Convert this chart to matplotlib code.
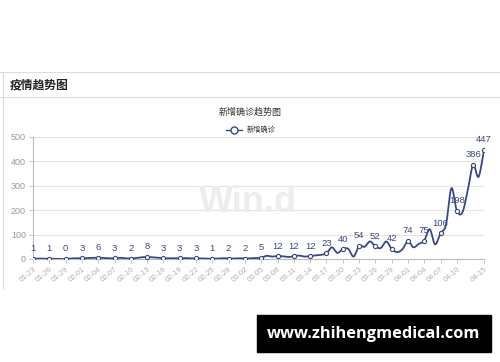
import numpy as np
import pandas as pd
import matplotlib
matplotlib.use('Agg')
import matplotlib.pyplot as plt

plt.rcParams['font.family'] = ['Noto Sans CJK SC', 'DejaVu Sans']

# daily new confirmed cases, 01-23 .. 04-15
dates = pd.date_range('2020-01-23', '2020-04-15').strftime('%m-%d').tolist()
new_cases = [1, 2, 1, 1, 1, 0, 0, 2, 3, 3, 4, 5, 6, 4, 3, 3, 5, 3, 2, 4,
             7, 8, 7, 5, 3, 3, 3, 3, 4, 2, 3, 2, 1, 1, 2, 3, 2, 2, 3, 2,
             3, 4, 5, 13, 10, 12, 11, 8, 12, 14, 10, 12, 15, 17, 23, 48, 25, 40, 42, 10,
             54, 50, 72, 52, 45, 72, 42, 28, 40, 74, 48, 62, 75, 122, 60, 106, 140, 290, 198, 190,
             280, 386, 337, 447]
tick_idx = list(range(0, 79, 3)) + [83]
label_idx = list(range(0, 82, 3)) + [83]

LINE = '#3b4784'

def smooth(y, n=12):
    # catmull-rom through the daily points
    y = np.asarray(y, float)
    m = np.zeros_like(y)
    m[1:-1] = (y[2:] - y[:-2]) / 2
    m[0] = y[1] - y[0]
    m[-1] = y[-1] - y[-2]
    xs, ys = [], []
    t = np.linspace(0, 1, n, endpoint=False)
    for i in range(len(y) - 1):
        h00 = 2*t**3 - 3*t**2 + 1
        h10 = t**3 - 2*t**2 + t
        h01 = -2*t**3 + 3*t**2
        h11 = t**3 - t**2
        xs.extend(i + t)
        ys.extend(h00*y[i] + h10*m[i] + h01*y[i+1] + h11*m[i+1])
    xs.append(len(y) - 1)
    ys.append(y[-1])
    return np.array(xs), np.array(ys)

fig = plt.figure(figsize=(5, 3.62), dpi=100)

# card borders
fig.add_artist(plt.Line2D([0, 1], [1 - 72/362]*2, color='#dddddd', lw=0.8))
fig.add_artist(plt.Line2D([0, 1], [1 - 97/362]*2, color='#dddddd', lw=0.8))
fig.add_artist(plt.Line2D([3/500]*2, [1 - 72/362, 1 - 288/362], color='#dddddd', lw=0.8))

fig.text(10/500, 1 - 85/362, '疫情趋势图', fontsize=8.5, fontweight='bold', color='#222222', va='center')
fig.text(250/500, 1 - 112/362, '新增确诊趋势图', fontsize=6.5, color='#333333', ha='center', va='center')

# watermark
fig.text(248/500, 1 - 203/362, 'Win.d', fontsize=26, fontweight='bold', color='#ededed',
         ha='center', va='center', family='Liberation Sans')

ax = fig.add_axes([33/500, 1 - 259/362, 451/500, 122/362])
xs, ys = smooth(new_cases)
ax.plot(xs, ys, color=LINE, lw=1.3, zorder=3)
ax.plot(label_idx, [new_cases[i] for i in label_idx], 'o', ms=3, mfc='white', mec=LINE, mew=0.8, zorder=4)
for i in label_idx:
    ax.annotate(str(new_cases[i]), (i, new_cases[i]), xytext=(0, 4), textcoords='offset points',
                ha='center', va='bottom', fontsize=6.8, color=LINE, family='Liberation Sans')

ax.set_xlim(0, len(new_cases) - 1)
ax.set_ylim(0, 500)
ax.set_yticks(range(0, 501, 100))
ax.grid(axis='y', color='#e3e3e3', lw=0.8)
ax.set_axisbelow(True)
ax.set_xticks(tick_idx)
ax.set_xticklabels([dates[i] for i in tick_idx], rotation=40, ha='right', rotation_mode='anchor',
                   fontsize=5.5, color='#b0b0b0', family='Liberation Sans')
for lab in ax.get_yticklabels():
    lab.set_fontsize(6.5)
    lab.set_color('#999999')
    lab.set_family('Liberation Sans')
ax.tick_params(axis='both', length=3, color='#bbbbbb', width=0.6, pad=2)
for s in ['top', 'right']:
    ax.spines[s].set_visible(False)
for s in ['left', 'bottom']:
    ax.spines[s].set_color('#bbbbbb')
    ax.spines[s].set_linewidth(0.8)

# legend
lg = fig.add_axes([0, 0, 1, 1], facecolor='none')
lg.set_axis_off()
lg.set_xlim(0, 500)
lg.set_ylim(362, 0)
lg.plot([226, 242], [130, 130], color=LINE, lw=1)
lg.plot([234], [130], 'o', ms=5, mfc='white', mec=LINE, mew=1)
lg.text(247, 130, '新增确诊', fontsize=5.2, color='#333333', va='center')

# footer badge
lg.add_patch(plt.Rectangle((257, 315), 234, 37, color='black'))
lg.text(374, 334, 'www.zhihengmedical.com', fontsize=11.8, fontweight='bold', color='white',
        ha='center', va='center', family='Open Sans')

fig.savefig('out.png', dpi=100)
